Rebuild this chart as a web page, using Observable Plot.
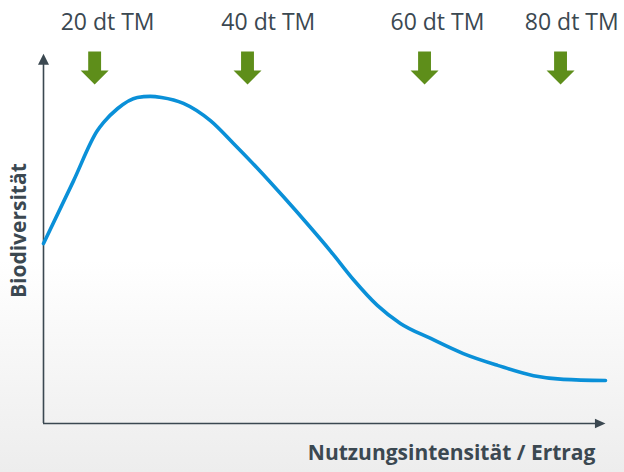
<!DOCTYPE html>
<html>
<head>
<meta charset="utf-8">
<script src="https://cdn.jsdelivr.net/npm/d3@7"></script>
<script src="https://cdn.jsdelivr.net/npm/@observablehq/plot@0.6"></script>
<style>
  html, body { margin: 0; padding: 0; }
  body {
    width: 624px; height: 472px; overflow: hidden;
    background: linear-gradient(to bottom, #ffffff 0%, #ffffff 55%, #ededed 100%);
    font-family: "Open Sans", sans-serif;
  }
  #chart svg { display: block; background: transparent; }
</style>
</head>
<body>
<div id="chart"></div>
<script>
// Curve: Nutzungsintensität (x, 0..100) vs Biodiversität (y, 0..100)
const curveX = [0, 5.3, 9.6, 10.7, 13.2, 16.7, 19.0, 21.0, 24.9, 29.7, 33.8, 38.1, 42.7, 47.2, 51.1, 55.2, 59.4, 63.5, 68.9, 74.7, 80.8, 87.2, 92.5, 100];
const curveY = [48.9, 65.8, 79.6, 81.8, 85.6, 88.6, 88.9, 88.6, 87.0, 82.3, 76.1, 69.3, 61.6, 53.8, 46.8, 39.0, 32.1, 27.2, 23.1, 19.0, 15.8, 13.0, 12.0, 11.7];

// Yield markers
const markerLabels = ["20 dt TM", "40 dt TM", "60 dt TM", "80 dt TM"];
const arrowX = [9.1, 36.3, 67.8, 92.0];
const labelX = [11.4, 40.0, 70.1, 94.0];
const arrowY = 96.6;
const labelY = 109;

const xLabel = "Nutzungsintensität / Ertrag";
const yLabel = "Biodiversität";
const xLabelPos = {x: 98.2, y: -8.2};
const yLabelPos = {x: -4.3, y: 52.4};

const curve = curveX.map((x, i) => ({x, y: curveY[i]}));
const markers = markerLabels.map((label, i) => ({label, ax: arrowX[i], lx: labelX[i]}));

const axisColor = "#3b4851";
const textColor = "#3b4851";
const green = "#5e8e1a";
const blue = "#0a90d8";

// custom symbols
const downArrow = {
  draw(ctx, size) {
    const r = Math.sqrt(size / Math.PI);
    const sw = 0.46 * r, top = -1.18 * r, neck = 0.18 * r, tip = 1.18 * r;
    ctx.moveTo(-sw, top);
    ctx.lineTo(sw, top);
    ctx.lineTo(sw, neck);
    ctx.lineTo(r, neck);
    ctx.lineTo(0, tip);
    ctx.lineTo(-r, neck);
    ctx.lineTo(-sw, neck);
    ctx.closePath();
  }
};
const upTri = {
  draw(ctx, size) {
    const r = Math.sqrt(size / Math.PI);
    ctx.moveTo(0, 0);
    ctx.lineTo(r, 2 * r);
    ctx.lineTo(-r, 2 * r);
    ctx.closePath();
  }
};
const rightTri = {
  draw(ctx, size) {
    const r = Math.sqrt(size / Math.PI);
    ctx.moveTo(0, 0);
    ctx.lineTo(-2.2 * r, -r);
    ctx.lineTo(-2.2 * r, r);
    ctx.closePath();
  }
};

const xDom = [0, 100], yDom = [0, 100];

const chart = Plot.plot({
  width: 624,
  height: 472,
  marginLeft: 43,
  marginRight: 19,
  marginTop: 55,
  marginBottom: 49,
  x: {domain: xDom, axis: null},
  y: {domain: yDom, axis: null},
  style: {background: "transparent", fontFamily: "Open Sans, sans-serif"},
  marks: [
    Plot.ruleX([xDom[0]], {y1: yDom[0], y2: yDom[1] - 2, stroke: axisColor, strokeWidth: 1.6}),
    Plot.ruleY([yDom[0]], {x1: xDom[0], x2: xDom[1] - 1.5, stroke: axisColor, strokeWidth: 1.6}),
    Plot.dot([xDom[0]], {x: d => d, y: yDom[1] + 0.5, symbol: upTri, r: 5.5, fill: axisColor, stroke: "none"}),
    Plot.dot([xDom[1]], {x: d => d, y: yDom[0], symbol: rightTri, r: 4.8, fill: axisColor, stroke: "none"}),
    Plot.line(curve, {x: "x", y: "y", curve: "monotone-x", stroke: blue, strokeWidth: 3.6}),
    Plot.dot(markers, {x: "ax", y: arrowY, symbol: downArrow, r: 14, fill: green, stroke: "none"}),
    Plot.text(markers, {x: "lx", y: labelY, text: "label", fill: textColor, fontSize: 23}),
    Plot.text([yLabel], {x: yLabelPos.x, y: yLabelPos.y, rotate: -90, fill: textColor, fontSize: 21, fontWeight: "bold"}),
    Plot.text([xLabel], {x: xLabelPos.x, y: xLabelPos.y, textAnchor: "end", fill: textColor, fontSize: 21, fontWeight: "bold"})
  ]
});
document.getElementById("chart").appendChild(chart);
</script>
</body>
</html>
